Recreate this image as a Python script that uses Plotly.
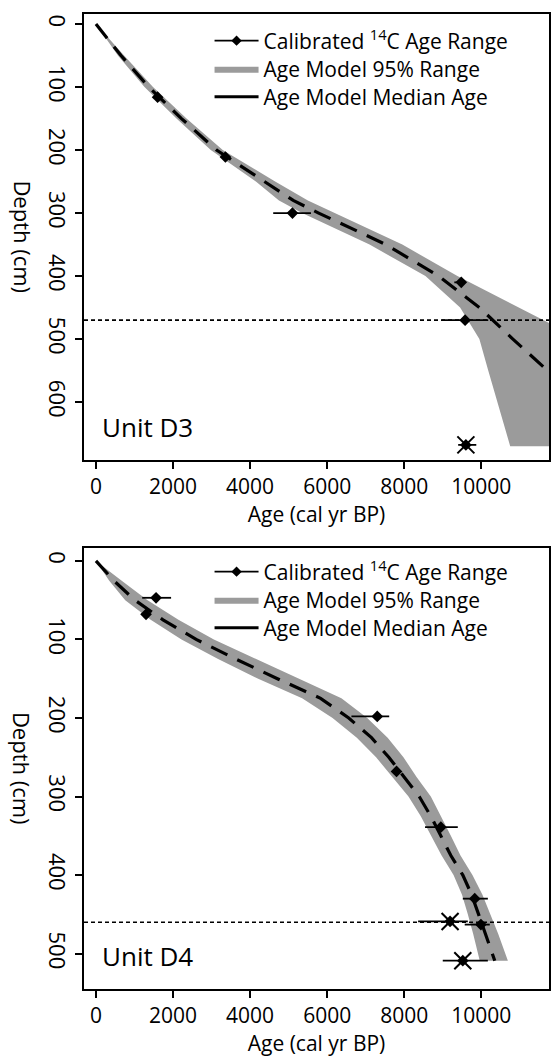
import plotly.graph_objects as go

# ---------------- Unit D3 (top panel) ----------------
d3_depth = [0, 25, 50, 100, 150, 200, 250, 280, 300, 350, 400, 450, 500, 550, 600, 670]
d3_median = [0, 320, 650, 1370, 2220, 3130, 4360, 5120, 5780, 7525, 8890, 9950, 10820, 11720, 12450, 13400]
d3_young = [0, 280, 570, 1260, 2090, 2980, 4150, 4750, 5350, 7100, 8550, 9450, 9950, 10180, 10420, 10750]
d3_old = [0, 360, 730, 1480, 2350, 3290, 4650, 5500, 6200, 7950, 9380, 10980, 12580, 14170, 15770, 18000]

d3_pt_depth = [116, 211, 300, 410, 470, 668]
d3_pt_age = [1600, 3360, 5100, 9480, 9580, 9600]
d3_pt_min = [1500, 3270, 4600, 9300, 8970, 9400]
d3_pt_max = [1680, 3440, 5580, 9590, 10180, 9870]
d3_pt_outlier = [0, 0, 0, 0, 0, 1]
d3_boundary = 470

# ---------------- Unit D4 (bottom panel) ----------------
d4_depth = [0, 25, 50, 75, 100, 125, 150, 175, 200, 225, 250, 275, 300, 325, 350, 375, 400, 425, 450, 475, 509]
d4_median = [0, 460, 1010, 1740, 2600, 3630, 4710, 5830, 6560, 7150, 7600, 8000, 8390, 8690, 8950, 9210, 9520, 9750, 9930, 10110, 10350]
d4_young = [0, 340, 760, 1420, 2220, 3170, 4210, 5350, 6140, 6770, 7270, 7700, 8110, 8430, 8700, 8970, 9280, 9500, 9650, 9790, 9960]
d4_old = [0, 660, 1340, 2140, 3060, 4150, 5270, 6370, 7040, 7570, 7980, 8320, 8690, 8960, 9210, 9460, 9770, 10030, 10230, 10440, 10690]

d4_pt_depth = [47, 68, 198, 268, 339, 430, 459, 463, 509]
d4_pt_age = [1560, 1300, 7300, 7800, 8950, 9830, 9190, 9990, 9520]
d4_pt_min = [1200, 1220, 6630, 7700, 8540, 9520, 8360, 9570, 9000]
d4_pt_max = [1950, 1380, 7610, 7900, 9390, 10170, 9650, 10220, 10170]
d4_pt_outlier = [0, 0, 0, 0, 0, 0, 1, 0, 1]
d4_boundary = 460

x_ticks = [0, 2000, 4000, 6000, 8000, 10000]
x_tick_text = ["0", "2000", "4000", "6000", "8000", "10000"]
d3_y_ticks = [0, 100, 200, 300, 400, 500, 600]
d4_y_ticks = [0, 100, 200, 300, 400, 500]

legend_labels = ["Calibrated <sup>14</sup>C Age Range", "Age Model 95% Range", "Age Model Median Age"]

GRAY = "#9b9b9b"
FONT = "Open Sans, Noto Sans, sans-serif"

fig = go.Figure()


def add_panel(xa, ya, legs, depth, median, young, old, pdep, page, pmin, pmax, pout):
    fig.add_trace(go.Scatter(
        x=young + old[::-1], y=depth + depth[::-1], fill="toself", fillcolor=GRAY,
        line=dict(width=0, color=GRAY), mode="lines", name=legend_labels[1],
        legend=legs[1], xaxis=xa, yaxis=ya, hoverinfo="skip"))
    fig.add_trace(go.Scatter(
        x=median, y=depth, mode="lines", line=dict(color="black", width=3.2, dash="18px,11px"),
        showlegend=False, xaxis=xa, yaxis=ya))
    ex, ey = [], []
    for d, lo, hi in zip(pdep, pmin, pmax):
        ex += [lo, hi, None]
        ey += [d, d, None]
    fig.add_trace(go.Scatter(x=ex, y=ey, mode="lines", line=dict(color="black", width=1.8),
                             showlegend=False, xaxis=xa, yaxis=ya))
    fig.add_trace(go.Scatter(x=page, y=pdep, mode="markers",
                             marker=dict(symbol="diamond", size=9, color="black"),
                             showlegend=False, xaxis=xa, yaxis=ya))
    ox = [a for a, o in zip(page, pout) if o]
    oy = [d for d, o in zip(pdep, pout) if o]
    fig.add_trace(go.Scatter(x=ox, y=oy, mode="markers",
                             marker=dict(symbol="x-thin-open", size=17,
                                         line=dict(width=2, color="black"), color="black"),
                             showlegend=False, xaxis=xa, yaxis=ya))
    # legend samples
    fig.add_trace(go.Scatter(x=[None], y=[None], mode="lines+markers",
                             line=dict(color="black", width=1.8),
                             marker=dict(symbol="diamond", size=8, color="black"),
                             name=legend_labels[0], legend=legs[0], xaxis=xa, yaxis=ya))
    fig.add_trace(go.Scatter(x=[None], y=[None], mode="lines",
                             line=dict(color="black", width=3),
                             name=legend_labels[2], legend=legs[2], xaxis=xa, yaxis=ya))


add_panel("x", "y", ["legend", "legend2", "legend3"], d3_depth, d3_median, d3_young, d3_old,
          d3_pt_depth, d3_pt_age, d3_pt_min, d3_pt_max, d3_pt_outlier)
add_panel("x2", "y2", ["legend4", "legend5", "legend6"], d4_depth, d4_median, d4_young, d4_old,
          d4_pt_depth, d4_pt_age, d4_pt_min, d4_pt_max, d4_pt_outlier)

fig.add_shape(type="line", xref="x domain", yref="y", x0=0, x1=1, y0=d3_boundary, y1=d3_boundary,
              line=dict(color="black", width=1.6, dash="4px,3px"))
fig.add_shape(type="line", xref="x2 domain", yref="y2", x0=0, x1=1, y0=d4_boundary, y1=d4_boundary,
              line=dict(color="black", width=1.6, dash="4px,3px"))

axis_common = dict(showline=True, mirror=True, linecolor="black", linewidth=1.5,
                   ticks="outside", ticklen=7, tickwidth=1.5, tickcolor="black",
                   showgrid=False, zeroline=False)
xtick_font = dict(size=21, color="black")
ytick_font = dict(size=22, color="black")

# page geometry: plot area from y=14 to y=989 (px)
TOP_PX, BOT_PX, PAGE_H = 14, 989, 1057
AREA_H = BOT_PX - TOP_PX


def py(px):
    return (BOT_PX - px) / AREA_H


def leg(row_px):
    return dict(x=0.27, y=py(row_px), xanchor="left", yanchor="middle", bgcolor="rgba(0,0,0,0)",
                font=dict(size=21), tracegroupgap=0, itemwidth=44)


fig.update_layout(
    width=552, height=PAGE_H,
    margin=dict(l=84, r=1, t=TOP_PX, b=PAGE_H - BOT_PX),
    paper_bgcolor="white", plot_bgcolor="white",
    font=dict(family=FONT, size=22, color="black"),
    xaxis=dict(domain=[0, 1], anchor="y", range=[-310, 11757], tickvals=x_ticks, ticktext=x_tick_text,
               tickfont=xtick_font,
               title=dict(text="Age (cal yr BP)", standoff=1, font=dict(size=21)), **axis_common),
    yaxis=dict(domain=[py(460), 1], anchor="x", range=[692, -16], tickvals=d3_y_ticks,
               tickfont=ytick_font, tickangle=90, **axis_common),
    xaxis2=dict(domain=[0, 1], anchor="y2", range=[-310, 11757], tickvals=x_ticks, ticktext=x_tick_text,
                tickfont=xtick_font,
                title=dict(text="Age (cal yr BP)", standoff=1, font=dict(size=21)), **axis_common),
    yaxis2=dict(domain=[0, py(548)], anchor="x2", range=[545, -16.4], tickvals=d4_y_ticks,
                tickfont=ytick_font, tickangle=90, **axis_common),
    legend=leg(41), legend2=leg(69), legend3=leg(97),
    legend4=leg(572), legend5=leg(600), legend6=leg(628),
    showlegend=True,
)

fig.add_annotation(text="Depth (cm)", xref="paper", yref="y domain", x=-0.132, y=0.5,
                   textangle=90, showarrow=False, font=dict(size=22), xanchor="center", yanchor="middle")
fig.add_annotation(text="Depth (cm)", xref="paper", yref="y2 domain", x=-0.132, y=0.5,
                   textangle=90, showarrow=False, font=dict(size=22), xanchor="center", yanchor="middle")
fig.add_annotation(text="Unit D3", xref="x", yref="y", x=100, y=640, showarrow=False,
                   font=dict(size=26), xanchor="left", yanchor="middle")
fig.add_annotation(text="Unit D4", xref="x2", yref="y2", x=100, y=503, showarrow=False,
                   font=dict(size=26), xanchor="left", yanchor="middle")

fig.write_html("out.html")
